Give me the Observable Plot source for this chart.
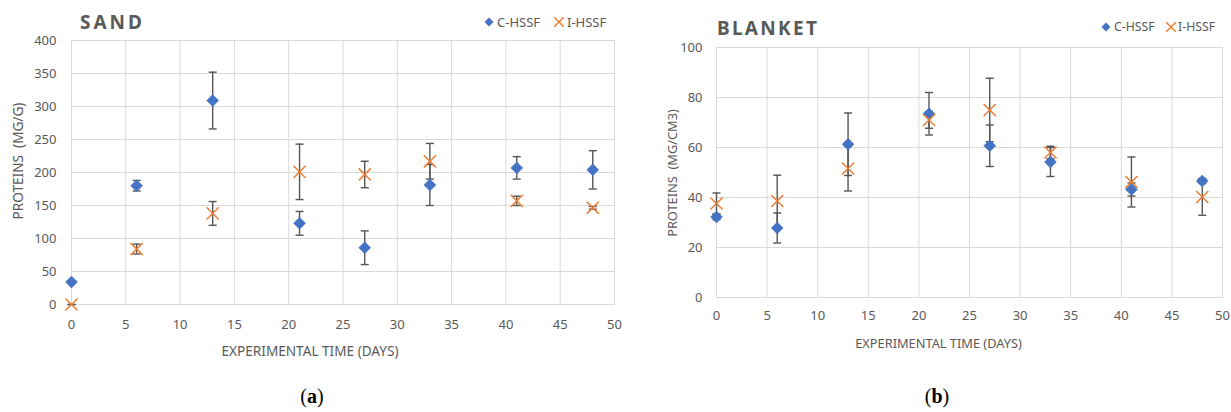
<!DOCTYPE html>
<html>
<head>
<meta charset="utf-8">
<script src="https://cdn.jsdelivr.net/npm/d3@7"></script>
<script src="https://cdn.jsdelivr.net/npm/@observablehq/plot@0.6"></script>
<style>
  html, body { margin: 0; padding: 0; background: #fff; }
  #wrap { position: relative; width: 1231px; height: 412px; font-family: "Noto Sans", sans-serif; color: #595959; overflow: hidden; }
  .chart { position: absolute; top: 0; }
  .title { position: absolute; font-weight: bold; font-size: 19px; color: #595959; line-height: 1; }
  .lab { position: absolute; color: #595959; line-height: 1; white-space: nowrap; transform: translate(-50%, -50%); }
  .lab.rot { transform: translate(-50%, -50%) rotate(-90deg); }
  .lg { position: absolute; color: #595959; line-height: 1; white-space: nowrap; transform: translateY(-50%); }
  .sym { position: absolute; transform: translate(-50%, -50%); }
  .sym svg { display: block; }
  .caption { position: absolute; font-family: "Liberation Serif", "DejaVu Serif", serif; font-size: 20px; color: #000; line-height: 1; transform: translateX(-50%); }
</style>
</head>
<body>
<div id="wrap">
  <div id="left" class="chart" style="left:0px"></div>
  <div id="right" class="chart" style="left:620px"></div>
  <div class="title" style="left:80px; top:13px; letter-spacing:3px;">SAND</div>
  <div class="title" style="left:717px; top:19px; letter-spacing:2.3px;">BLANKET</div>
  <div id="labels"></div>
  <div class="caption" style="left:312px; top:386px;">(<b>a</b>)</div>
  <div class="caption" style="left:937px; top:386px;">(<b>b</b>)</div>
</div>
<script>
// ---- data ----
const days = [0, 6, 13, 21, 27, 33, 41, 48];
const seriesNames = ["C-HSSF", "I-HSSF"];

const sandC    = [34, 180, 309, 123, 86, 181, 207, 204];
const sandCErr = [1.5, 8, 43, 18, 25.5, 31, 17, 29];
const sandI    = [0, 84, 138, 201, 197, 217, 157, 146.5];
const sandIErr = [0, 7.5, 18, 42, 20, 27, 7, 2];

const blanketC    = [32.2, 27.8, 61.3, 73.5, 60.7, 54.2, 43.2, 46.6];
const blanketCErr = [1, 6, 12.5, 8.5, 8.3, 5.8, 2.6, 1];
const blanketI    = [37.6, 38.6, 51.6, 71, 75, 58, 46.2, 40.2];
const blanketIErr = [4.2, 10.3, 9, 3.3, 12.7, 2.5, 10, 7.3];

const xTicks = [0, 5, 10, 15, 20, 25, 30, 35, 40, 45, 50];
const sandYTicks = [0, 50, 100, 150, 200, 250, 300, 350, 400];
const blanketYTicks = [0, 20, 40, 60, 80, 100];

const xLabel = "EXPERIMENTAL TIME (DAYS)";
const sandYLabel = "PROTEINS  (MG/G)";
const blanketYLabel = "PROTEINS  (MG/CM3)";

// ---- styles ----
const BLUE = "#4472C4", ORANGE = "#ED7D31", GRID = "#d9d9d9", ERR = "#555555", TEXT = "#595959";

const cap = { draw(ctx) { ctx.moveTo(-4, 0); ctx.lineTo(4, 0); } };

function rows(vals, errs, s) {
  return days.map((d, i) => ({ day: d, v: vals[i], lo: vals[i] - errs[i], hi: vals[i] + errs[i], s }));
}

function chart({ C, CE, I, IE, yDomain, yTicks, width, height, margins, xPad, yPad }) {
  const c = rows(C, CE, seriesNames[0]);
  const o = rows(I, IE, seriesNames[1]);
  const all = c.concat(o);
  return Plot.plot({
    width, height,
    marginLeft: margins[3], marginRight: margins[1], marginTop: margins[0], marginBottom: margins[2],
    style: { fontFamily: "Noto Sans, sans-serif", fontSize: "13px", color: TEXT, background: "transparent", overflow: "visible" },
    x: { domain: [0, 50] },
    y: { domain: yDomain },
    marks: [
      Plot.gridX(xTicks, { stroke: GRID, strokeOpacity: 1, strokeWidth: 1 }),
      Plot.gridY(yTicks, { stroke: GRID, strokeOpacity: 1, strokeWidth: 1 }),
      Plot.frame({ stroke: GRID, strokeWidth: 1 }),
      Plot.axisX(xTicks, { tickSize: 0, tickPadding: xPad, fontSize: 13, fill: TEXT, label: null }),
      Plot.axisY(yTicks, { tickSize: 0, tickPadding: yPad, fontSize: 13, fill: TEXT, label: null }),
      Plot.ruleX(all, { x: "day", y1: "lo", y2: "hi", stroke: ERR, strokeWidth: 1.4 }),
      Plot.dot(all, { x: "day", y: "hi", symbol: cap, stroke: ERR, strokeWidth: 1.4 }),
      Plot.dot(all, { x: "day", y: "lo", symbol: cap, stroke: ERR, strokeWidth: 1.4 }),
      Plot.dot(c, { x: "day", y: "v", symbol: "diamond2", r: 5.4, fill: BLUE, stroke: BLUE, strokeWidth: 0.5 }),
      Plot.dot(o, { x: "day", y: "v", symbol: "times", r: 5.6, stroke: ORANGE, strokeWidth: 1.5 })
    ]
  });
}

document.getElementById("left").appendChild(chart({
  C: sandC, CE: sandCErr, I: sandI, IE: sandIErr,
  yDomain: [0, 400], yTicks: sandYTicks,
  width: 620, height: 370, margins: [40, 6, 66, 71], xPad: 15, yPad: 15
}));

document.getElementById("right").appendChild(chart({
  C: blanketC, CE: blanketCErr, I: blanketI, IE: blanketIErr,
  yDomain: [0, 100], yTicks: blanketYTicks,
  width: 611, height: 370, margins: [47, 9, 73, 96], xPad: 13, yPad: 14
}));

// ---- axis titles and legends (HTML text) ----
const labels = document.getElementById("labels");
function addLabel(text, x, y, size, rot) {
  const d = document.createElement("div");
  d.className = "lab" + (rot ? " rot" : "");
  d.style.left = x + "px"; d.style.top = y + "px"; d.style.fontSize = size + "px";
  d.style.whiteSpace = "pre";
  d.textContent = text;
  labels.appendChild(d);
}
addLabel(xLabel, 310, 351, 13.6, false);
addLabel(xLabel, 938.5, 343, 12.8, false);
addLabel(sandYLabel, 18, 161, 13.6, true);
addLabel(blanketYLabel, 672, 172.5, 12.8, true);

function addSym(svg, x, y) {
  const d = document.createElement("div");
  d.className = "sym"; d.style.left = x + "px"; d.style.top = y + "px";
  d.innerHTML = svg; labels.appendChild(d);
}
function addLg(text, x, y, size) {
  const d = document.createElement("div");
  d.className = "lg"; d.style.left = x + "px"; d.style.top = y + "px"; d.style.fontSize = size + "px";
  d.textContent = text; labels.appendChild(d);
}
const diamondSvg = `<svg width="10" height="10" viewBox="-5 -5 10 10"><path d="M0,-4.5L4.5,0L0,4.5L-4.5,0Z" fill="${BLUE}"/></svg>`;
const timesSvg = `<svg width="12" height="12" viewBox="-6 -6 12 12"><path d="M-4.8,-4.8L4.8,4.8M4.8,-4.8L-4.8,4.8" stroke="${ORANGE}" stroke-width="1.5"/></svg>`;

addSym(diamondSvg, 489.3, 22.3); addLg(seriesNames[0], 497, 22.3, 13);
addSym(timesSvg, 559.3, 22.3);   addLg(seriesNames[1], 567, 22.3, 13);
addSym(diamondSvg, 1105.7, 27.3); addLg(seriesNames[0], 1114, 27.3, 12.3);
addSym(timesSvg, 1170.7, 27.3);   addLg(seriesNames[1], 1178, 27.3, 12.3);
</script>
</body>
</html>
